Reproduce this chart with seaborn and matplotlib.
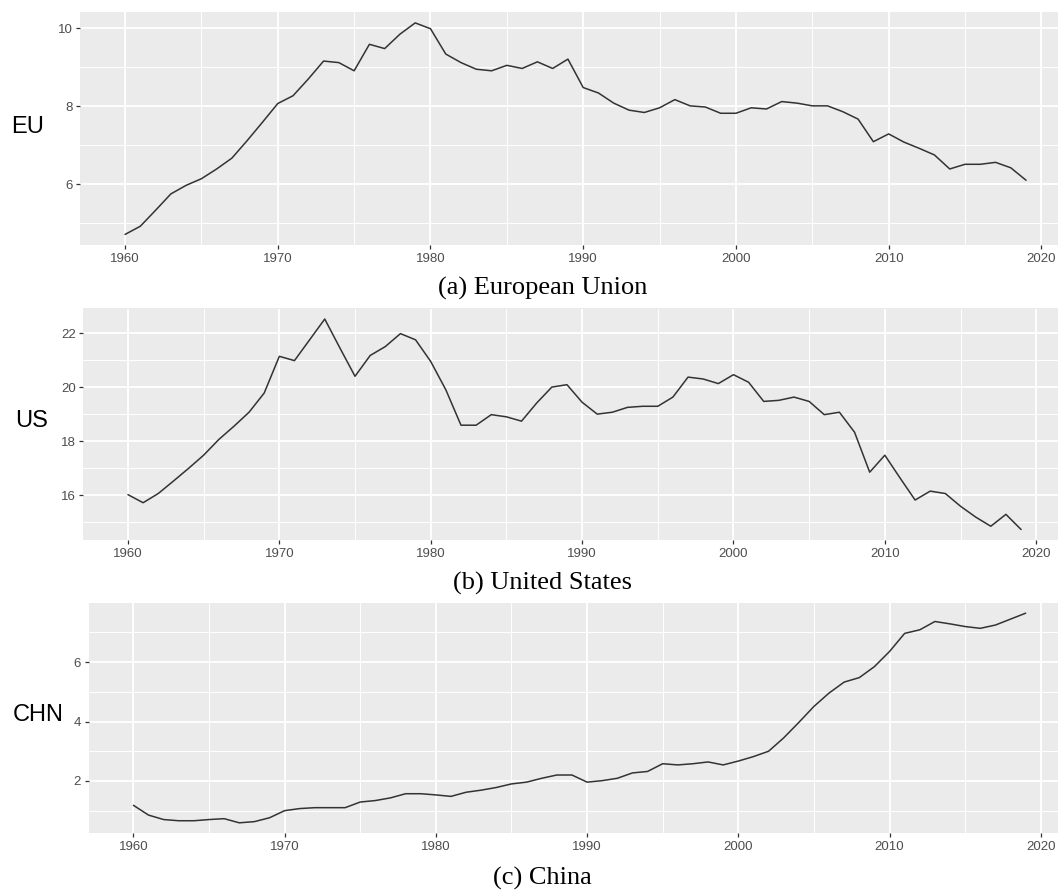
import numpy as np
import pandas as pd
import matplotlib
matplotlib.use("Agg")
import matplotlib.pyplot as plt
import seaborn as sns

# ---- data: annual series, 1960-2019 ----
years = list(range(1960, 2020))

eu_values = [
    4.71, 4.92, 5.33, 5.75, 5.97, 6.14, 6.39, 6.67, 7.12, 7.59,
    8.07, 8.27, 8.70, 9.16, 9.12, 8.91, 9.59, 9.48, 9.85, 10.14,
    9.99, 9.34, 9.12, 8.95, 8.91, 9.05, 8.97, 9.14, 8.97, 9.21,
    8.48, 8.34, 8.08, 7.90, 7.84, 7.96, 8.17, 8.01, 7.98, 7.82,
    7.82, 7.96, 7.93, 8.12, 8.08, 8.01, 8.01, 7.86, 7.67, 7.09,
    7.29, 7.08, 6.92, 6.75, 6.39, 6.51, 6.51, 6.56, 6.42, 6.10,
]

us_values = [
    16.02, 15.72, 16.06, 16.52, 16.99, 17.48, 18.06, 18.55, 19.07, 19.78,
    21.14, 20.98, 21.75, 22.52, 21.45, 20.40, 21.17, 21.50, 21.98, 21.75,
    20.95, 19.90, 18.59, 18.59, 18.98, 18.90, 18.74, 19.41, 20.00, 20.09,
    19.44, 19.00, 19.07, 19.25, 19.29, 19.29, 19.63, 20.37, 20.30, 20.13,
    20.46, 20.18, 19.47, 19.51, 19.63, 19.47, 18.98, 19.07, 18.33, 16.85,
    17.48, 16.64, 15.82, 16.15, 16.06, 15.59, 15.19, 14.85, 15.29, 14.73,
]

chn_values = [
    1.18, 0.85, 0.70, 0.66, 0.66, 0.70, 0.73, 0.59, 0.63, 0.76,
    1.00, 1.07, 1.10, 1.10, 1.10, 1.29, 1.34, 1.43, 1.57, 1.57,
    1.53, 1.48, 1.62, 1.69, 1.78, 1.90, 1.96, 2.09, 2.20, 2.20,
    1.96, 2.01, 2.09, 2.27, 2.32, 2.58, 2.54, 2.58, 2.64, 2.54,
    2.67, 2.82, 3.00, 3.45, 3.97, 4.51, 4.96, 5.33, 5.48, 5.85,
    6.36, 6.97, 7.09, 7.37, 7.29, 7.20, 7.14, 7.25, 7.45, 7.65,
]

panel_names = ["EU", "US", "CHN"]
captions = ["(a) European Union", "(b) United States", "(c) China"]
y_major_ticks = [[6, 8, 10], [16, 18, 20, 22], [2, 4, 6]]
x_major_ticks = [1960, 1970, 1980, 1990, 2000, 2010, 2020]

# ---- styling (ggplot2 grey theme look) ----
sns.set_theme(style="darkgrid")
plt.rcParams.update({
    "axes.facecolor": "#EBEBEB",
    "grid.color": "white",
    "axes.edgecolor": "none",
    "xtick.color": "#333333",
    "ytick.color": "#333333",
    "xtick.labelcolor": "#4D4D4D",
    "ytick.labelcolor": "#4D4D4D",
    "xtick.bottom": True,
    "ytick.left": True,
    "xtick.major.size": 3.0,
    "ytick.major.size": 3.0,
    "xtick.major.width": 0.9,
    "ytick.major.width": 0.9,
    "xtick.major.pad": 2.5,
    "ytick.major.pad": 2.5,
})
plt.rcParams["font.family"] = ["Liberation Sans", "DejaVu Sans"]

W, H = 1058, 890
fig = plt.figure(figsize=(W / 100, H / 100), dpi=100)
fig.patch.set_facecolor("white")

# panel frames in pixels: (left, top, bottom); the right edge runs to the figure edge
frames = [(80.0, 12.3, 245.0), (83.3, 308.5, 540.0), (88.8, 602.7, 833.3)]
x_right = [2021.09, 2021.44, 2021.14]
label_pos = [(27.5, 133.3), (31.8, 426.7), (38.0, 720.7)]
caption_y = [288, 583, 878]

series = [eu_values, us_values, chn_values]

for i, vals in enumerate(series):
    left, top, bottom = frames[i]
    ax = fig.add_axes([left / W, 1 - bottom / H, (W - left) / W, (bottom - top) / H])
    df = pd.DataFrame({"year": years, "value": vals})
    sns.lineplot(data=df, x="year", y="value", ax=ax, color="#333333", linewidth=1.1)

    vmin, vmax = min(vals), max(vals)
    pad = 0.05 * (vmax - vmin)
    y_lo, y_hi = vmin - pad, vmax + pad

    # major ticks plus ggplot-style minor grid halfway between them
    yt = y_major_ticks[i]
    y_minor = [t for t in np.arange(yt[0] - 1, yt[-1] + 2, 2) if y_lo <= t <= y_hi]
    ax.set_xticks(x_major_ticks)
    ax.set_yticks(yt)
    ax.set_xticks(np.arange(1965, 2025, 10), minor=True)
    ax.set_yticks(y_minor, minor=True)

    ax.set_ylim(y_lo, y_hi)
    ax.set_xlim(1957.05, x_right[i])

    ax.grid(which="major", color="white", linewidth=1.3)
    ax.grid(which="minor", color="white", linewidth=0.7)
    ax.tick_params(which="minor", length=0)
    ax.tick_params(axis="both", which="major", labelsize=9.5)
    ax.set_xlabel("")
    ax.set_ylabel("")
    for s in ax.spines.values():
        s.set_visible(False)

    lx, ly = label_pos[i]
    fig.text(lx / W, 1 - ly / H, panel_names[i], ha="center", va="baseline",
             fontsize=17, color="black", family=["Liberation Sans", "DejaVu Sans"])
    fig.text(542.5 / W, 1 - caption_y[i] / H, captions[i], ha="center", va="center",
             fontsize=19, color="black", family=["Liberation Serif", "DejaVu Serif"])

fig.savefig("out.png", dpi=100, facecolor="white")
